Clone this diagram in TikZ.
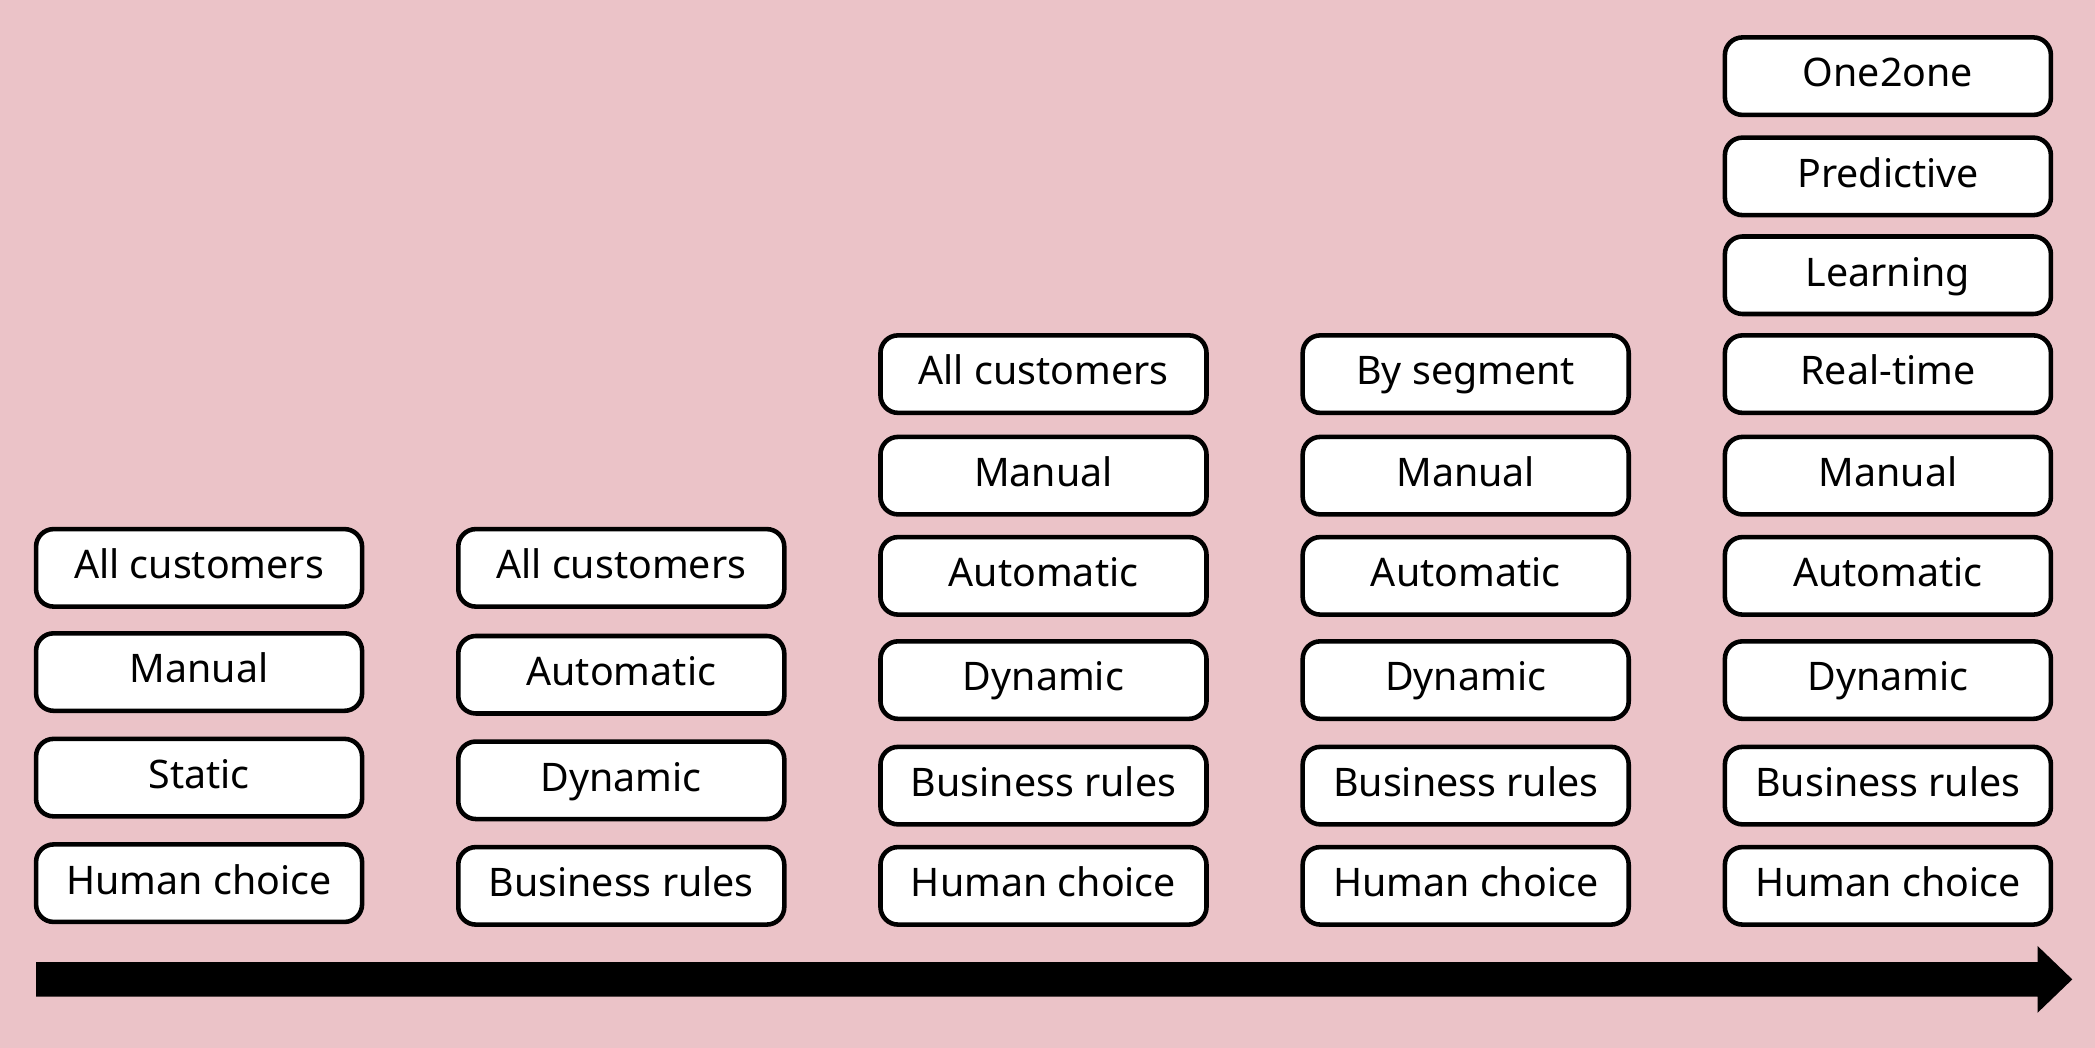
\documentclass[tikz,border=0pt]{standalone}
\usepackage{fontspec}
\setmainfont{Noto Sans}
\definecolor{bg}{HTML}{EBC3C8}
\begin{document}
\begin{tikzpicture}[x=0.01336cm,y=-0.01336cm,
  box/.style={draw=black,line width=1.3pt,fill=white,rounded corners=5pt,minimum width=244*0.01336cm,minimum height=58*0.01336cm,inner sep=0pt,text height=1.6ex,text depth=0.45ex,font=\fontsize{11.2}{13}\selectfont}]
\fill[bg] (0,0) rectangle (1568,784);
\useasboundingbox (0,0) rectangle (1568,784);
% column 1
\node[box] (a1) at (149,425) {All customers};
\node[box] (a2) at (149,503) {Manual};
\node[box] (a3) at (149,582) {Static};
\node[box] (a4) at (149,661) {Human choice};
% column 2
\node[box] (b1) at (465,425) {All customers};
\node[box] (b2) at (465,505) {Automatic};
\node[box] (b3) at (465,584) {Dynamic};
\node[box] (b4) at (465,663) {Business rules};
% columns 3-5 shared rows
\foreach \x/\n/\t in {781/c/All customers,1097/d/By segment,1413/e/Real-time}{
  \node[box] (\n1) at (\x,280) {\t};
  \node[box] (\n2) at (\x,356) {Manual};
  \node[box] (\n3) at (\x,431) {Automatic};
  \node[box] (\n4) at (\x,509) {Dynamic};
  \node[box] (\n5) at (\x,588) {Business rules};
  \node[box] (\n6) at (\x,663) {Human choice};
}
\node[box] (e7) at (1413,206) {Learning};
\node[box] (e8) at (1413,132) {Predictive};
\node[box] (e9) at (1413,57) {One2one};
% arrow
\fill[black] (27,720) -- (1525,720) -- (1525,708) -- (1551,733) -- (1525,758) -- (1525,746) -- (27,746) -- cycle;
\end{tikzpicture}
\end{document}
